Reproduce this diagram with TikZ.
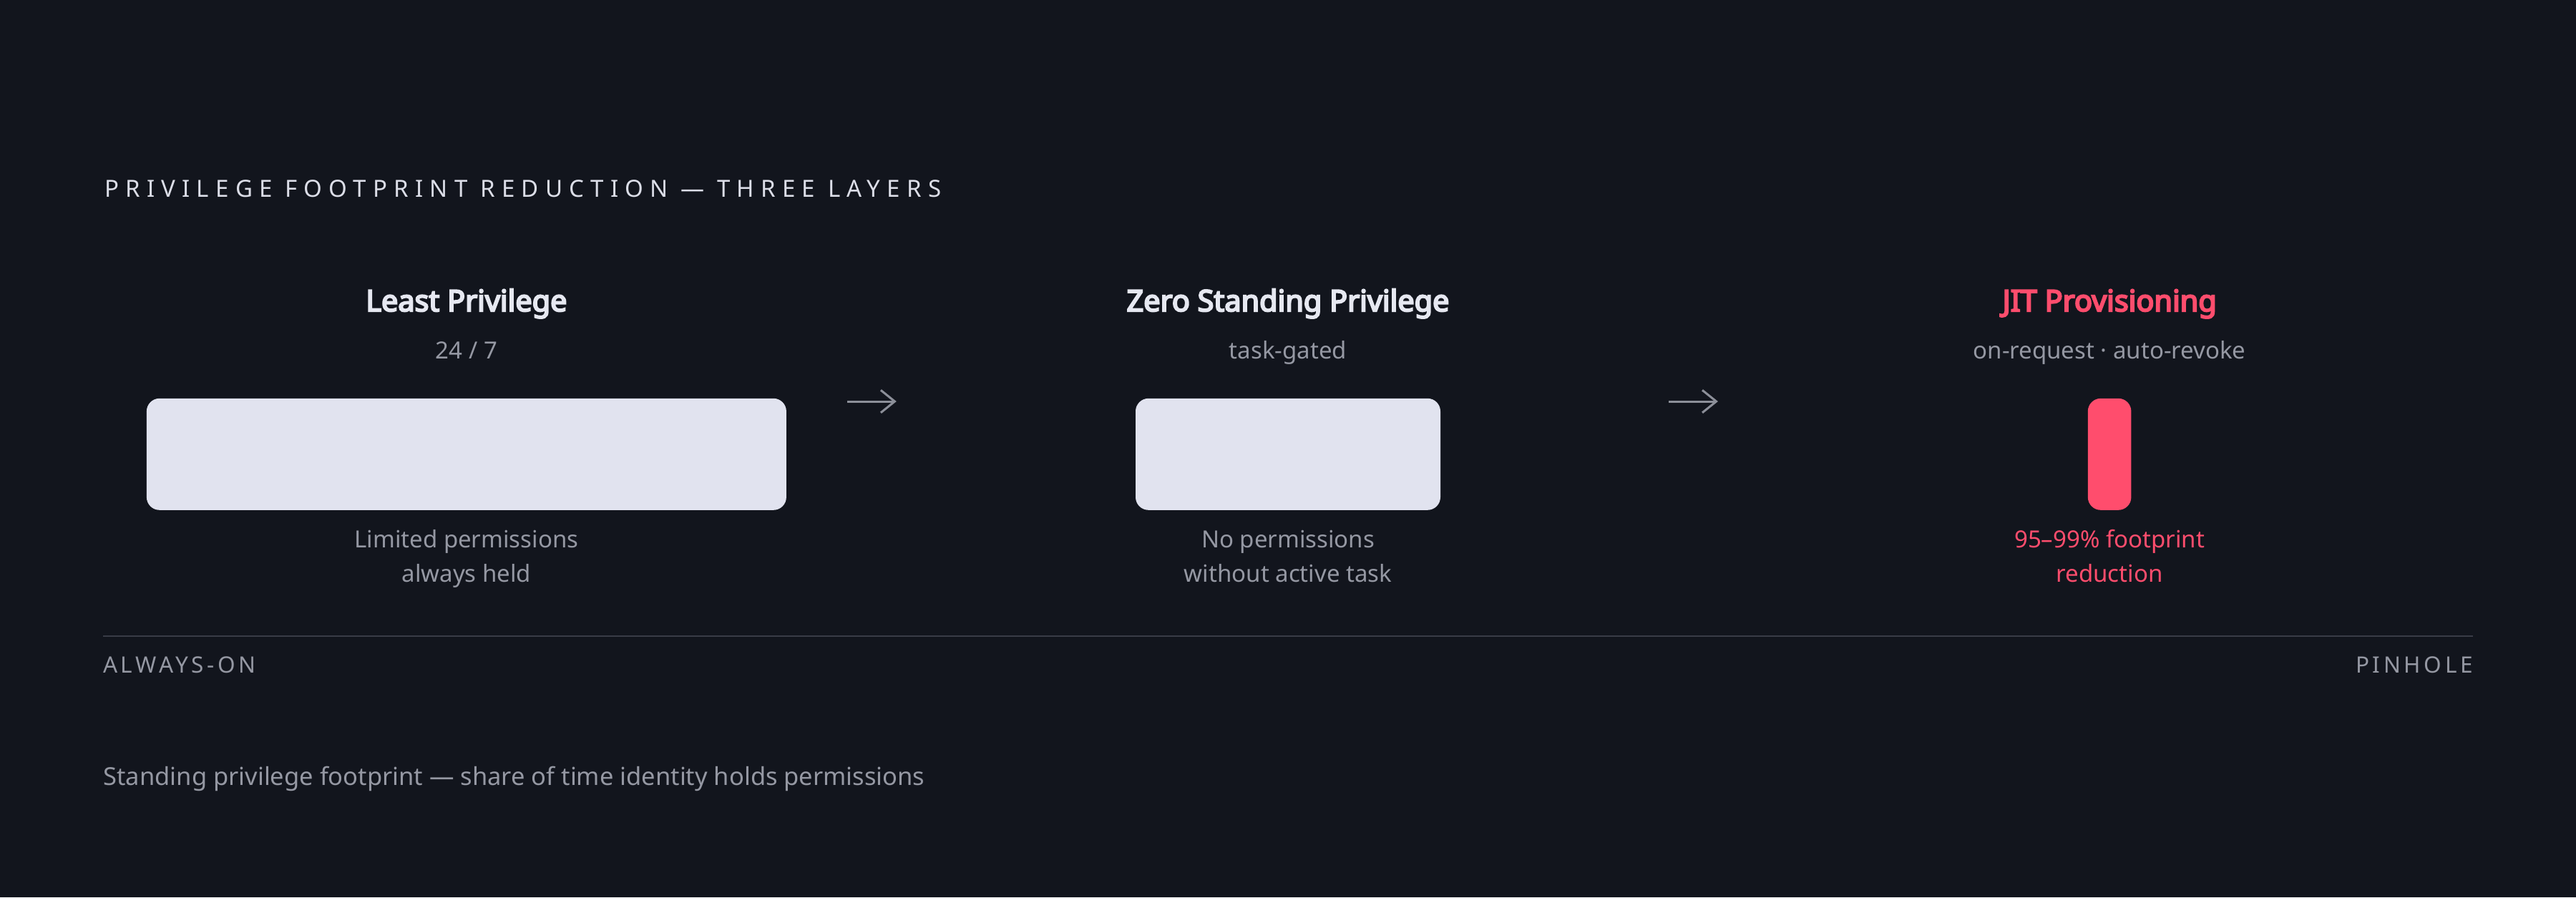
\documentclass[tikz,border=0pt]{standalone}
\usepackage{fontspec}
\setmainfont{Noto Sans}
\usetikzlibrary{arrows.meta}
\definecolor{bgc}{HTML}{12151D}
\definecolor{barc}{HTML}{E1E3EF}
\definecolor{pinkc}{HTML}{FF4D6D}
\definecolor{headc}{HTML}{E6E8F1}
\definecolor{titlec}{HTML}{DCDEE8}
\definecolor{mutedc}{HTML}{9598A3}
\definecolor{arrowc}{HTML}{8C8F99}
\definecolor{rulec}{HTML}{393C46}
\tikzset{
  txt/.style={inner sep=0pt, outer sep=0pt, anchor=base},
  head/.style={txt, font=\fontsize{13.8}{16}\selectfont\addfontfeature{FakeBold=5}, text=headc},
  sub/.style={txt, font=\fontsize{11}{14}\selectfont, text=mutedc},
  capt/.style={txt, font=\fontsize{11}{14}\selectfont, text=mutedc},
  bar/.style={fill=barc, rounded corners=6pt, inner sep=0pt, outer sep=0pt, minimum height=52pt},
  arr/.style={draw=arrowc, line width=1pt, -{Straight Barb[length=6.5pt,width=10.5pt]}},
  rule/.style={draw=rulec, line width=0.8pt},
  tag/.style={inner sep=0pt, outer sep=0pt, font=\fontsize{10.5}{12}\selectfont\addfontfeature{LetterSpace=15}, text=mutedc},
}
\begin{document}
\begin{tikzpicture}[x=1pt,y=-1pt]
\fill[bgc] (0,0) rectangle (1200,418);
\useasboundingbox (0,0) rectangle (1200,418);
% title
\node[inner sep=0pt, anchor=base west, font=\fontsize{11}{13}\selectfont\addfontfeature{LetterSpace=28}, text=titlec] (title) at (48.5,91.7) {PRIVILEGE FOOTPRINT REDUCTION — THREE LAYERS};
% column 1
\node[head] (h1) at (217.3,145) {Least Privilege};
\node[sub] (s1) at (217.3,167.3) {24 / 7};
\node[bar, minimum width=298pt] (b1) at (217.3,211.6) {};
\node[capt] (c1a) at (217.3,255.3) {Limited permissions};
\node[capt] (c1b) at (217.3,271) {always held};
% column 2
\node[head] (h2) at (600,145) {Zero Standing Privilege};
\node[sub] (s2) at (600,167.3) {task-gated};
\node[bar, minimum width=142pt] (b2) at (600,211.6) {};
\node[capt] (c2a) at (600,255.3) {No permissions};
\node[capt] (c2b) at (600,271) {without active task};
% column 3
\node[head, text=pinkc] (h3) at (982.7,145) {JIT Provisioning};
\node[sub] (s3) at (982.7,167.3) {on-request · auto-revoke};
\node[bar, fill=pinkc, minimum width=20.2pt] (b3) at (982.7,211.6) {};
\node[capt, text=pinkc] (c3a) at (982.7,255.3) {95–99\% footprint};
\node[capt, text=pinkc] (c3b) at (982.7,271) {reduction};
% arrows
\coordinate (a1s) at (394.7,187);
\coordinate (a1e) at (417.6,187);
\coordinate (a2s) at (777.4,187);
\coordinate (a2e) at (800.3,187);
\draw[arr] (a1s) -- (a1e);
\draw[arr] (a2s) -- (a2e);
% axis
\coordinate (rl) at (48,296.3);
\coordinate (rr) at (1152,296.3);
\draw[rule] (rl) -- (rr);
\node[tag, anchor=base west] (lo) at (48,313.6) {ALWAYS-ON};
\node[tag, anchor=base east] (hi) at (1152,313.6) {PINHOLE};
% footer
\node[inner sep=0pt, anchor=base west, font=\fontsize{11.5}{14}\selectfont, text=mutedc] (foot) at (48,365.7) {Standing privilege footprint — share of time identity holds permissions};
\end{tikzpicture}
\end{document}
